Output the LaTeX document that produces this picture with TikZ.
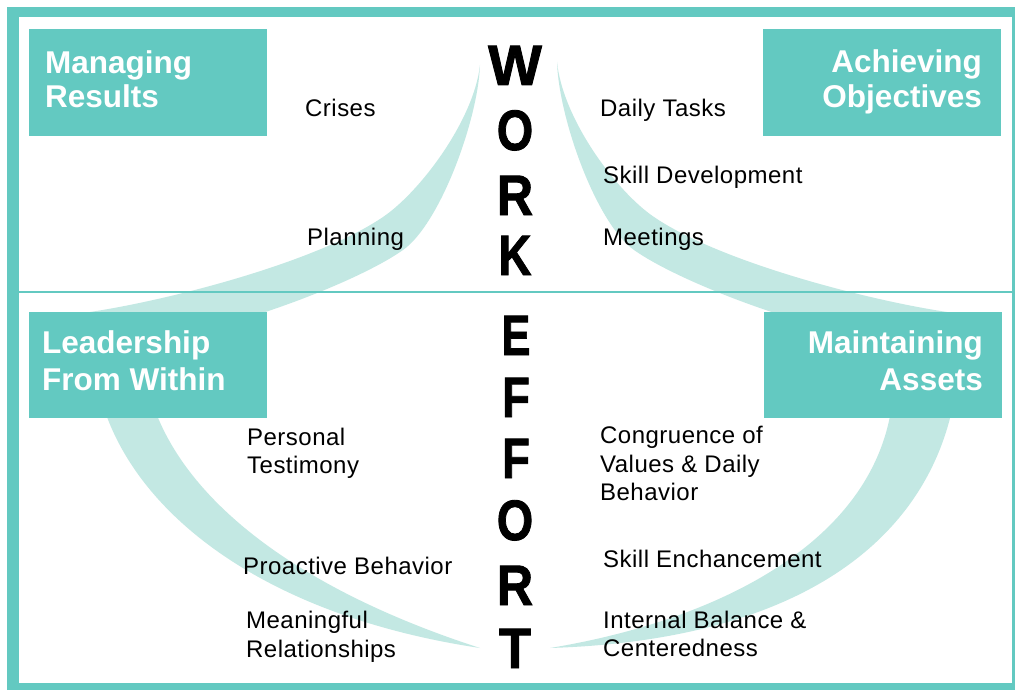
\documentclass[tikz,border=0pt]{standalone}
\usepackage{fontspec}
\setmainfont{Liberation Sans}
\newfontfamily\heavyfont[FakeBold=1.6]{Liberation Sans}
\definecolor{tealA}{HTML}{63C9C1}
\definecolor{tealB}{HTML}{C3E8E3}
\begin{document}
\begin{tikzpicture}[x=1pt,y=-1pt,
  quadbox/.style={fill=tealA, draw=none, inner sep=0, anchor=north west, minimum width=238pt, minimum height=107pt},
  boxtext/.style={text=white, font=\fontsize{31.5}{36}\selectfont\bfseries, inner sep=0},
  lbl/.style={font=\fontsize{24}{28}\selectfont\addfontfeatures{LetterSpace=2}, inner sep=0, anchor=base west, text=black},
  crescent/.style={fill=tealB, draw=none},
  bigletter/.style={font=\fontsize{57}{60}\heavyfont\bfseries\selectfont, inner sep=0, anchor=base, text=black}]
\useasboundingbox (0,0) rectangle (1015,690);
% frame
\fill[tealA] (7,7) rectangle (1015,690);
\fill[white] (19,17) rectangle (1012,683);
% crescents
\fill[crescent] (480,65) .. controls (474,120) and (420,192) .. (383,217)
  .. controls (317,262) and (170,300) .. (90,312) -- (200,330)
  .. controls (260,318) and (362,279) .. (403,250)
  .. controls (440,224) and (478,120) .. (480,65) -- cycle;
\fill[crescent] (557,62) .. controls (563,120) and (617,192) .. (654,217)
  .. controls (720,262) and (867,300) .. (947,312) -- (837,330)
  .. controls (777,318) and (675,279) .. (634,250)
  .. controls (597,224) and (559,120) .. (557,62) -- cycle;
\fill[crescent] (100,395) .. controls (130,510) and (260,615) .. (480,648)
  .. controls (300,590) and (180,500) .. (150,395) -- cycle;
\fill[crescent] (955,395) .. controls (930,540) and (800,640) .. (550,648)
  .. controls (720,620) and (880,540) .. (893,395) -- cycle;
% divider
\coordinate (dl) at (19,292);
\coordinate (dr) at (1012,292);
\draw[tealA, line width=1.5pt] (dl) -- (dr);
% boxes
\node[quadbox] (mr) at (29,29) {};
\node[quadbox] (ao) at (763,29) {};
\node[quadbox, minimum height=106pt] (lw) at (29,312) {};
\node[quadbox, minimum height=106pt] (ma) at (764,312) {};
\node[boxtext, anchor=base west] (mr1) at (45,74) {Managing};
\node[boxtext, anchor=base west] (mr2) at (45,108) {Results};
\node[boxtext, anchor=base east] (ao1) at (982,73) {Achieving};
\node[boxtext, anchor=base east] (ao2) at (982,108) {Objectives};
\node[boxtext, anchor=base west] (lw1) at (42,353) {Leadership};
\node[boxtext, anchor=base west] (lw2) at (42,390) {From Within};
\node[boxtext, anchor=base east] (ma1) at (983,353) {Maintaining};
\node[boxtext, anchor=base east] (ma2) at (983,390) {Assets};
% labels
\node[lbl] (crises) at (305,117) {Crises};
\node[lbl] (planning) at (307,245) {Planning};
\node[lbl] (daily) at (600,117) {Daily Tasks};
\node[lbl] (skilldev) at (603,183) {Skill Development};
\node[lbl] (meetings) at (603,245) {Meetings};
\node[lbl] (pt1) at (247,445) {Personal};
\node[lbl] (pt2) at (247,473) {Testimony};
\node[lbl] (pb) at (243,574) {Proactive Behavior};
\node[lbl] (mrel1) at (246,628) {Meaningful};
\node[lbl] (mrel2) at (246,657) {Relationships};
\node[lbl] (cv1) at (600,443) {Congruence of};
\node[lbl] (cv2) at (600,472) {Values \& Daily};
\node[lbl] (cv3) at (600,500) {Behavior};
\node[lbl] (se) at (603,567) {Skill Enchancement};
\node[lbl] (ib1) at (603,628) {Internal Balance \&};
\node[lbl] (ib2) at (603,656) {Centeredness};
% WORK EFFORT
\node[bigletter] (w1) at (515,85) {W};
\node[bigletter] (w2) at (515,150) {\scalebox{0.82}[1]{O}};
\node[bigletter] (w3) at (515,215) {\scalebox{0.88}[1]{R}};
\node[bigletter] (w4) at (515,275) {\scalebox{0.8}[1]{K}};
\node[bigletter] (e1) at (516,355) {\scalebox{0.76}[1]{E}};
\node[bigletter] (e2) at (516,417) {\scalebox{0.8}[1]{F}};
\node[bigletter] (e3) at (516,478) {\scalebox{0.8}[1]{F}};
\node[bigletter] (e4) at (515,540) {\scalebox{0.82}[1]{O}};
\node[bigletter] (e5) at (515,605) {\scalebox{0.88}[1]{R}};
\node[bigletter] (e6) at (515,668) {\scalebox{0.92}[1]{T}};
\end{tikzpicture}
\end{document}
